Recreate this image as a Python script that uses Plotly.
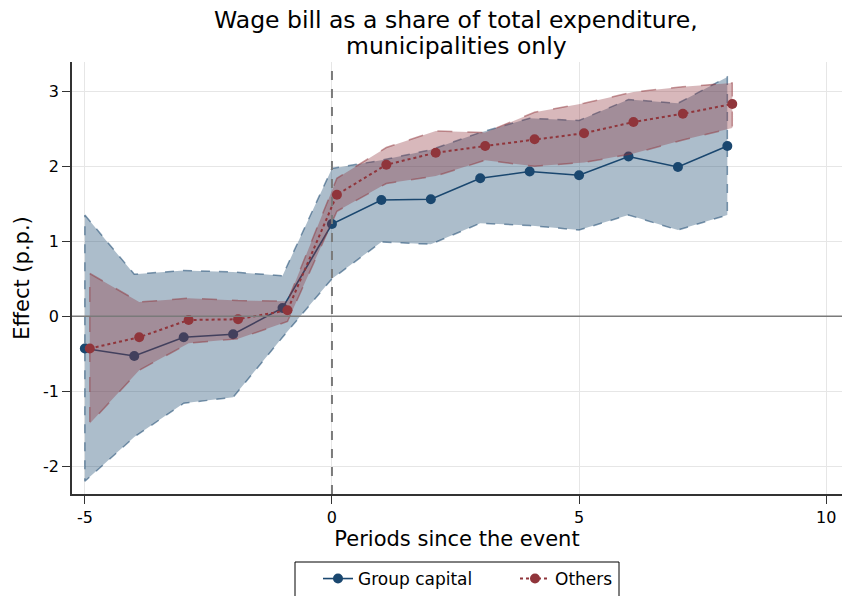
import plotly.graph_objects as go

periods = [-5, -4, -3, -2, -1, 0, 1, 2, 3, 4, 5, 6, 7, 8]

# Group capital
cap_est = [-0.43, -0.53, -0.28, -0.24, 0.11, 1.23, 1.55, 1.56, 1.84, 1.93, 1.88, 2.13, 1.99, 2.27]
cap_hi = [1.35, 0.56, 0.61, 0.59, 0.54, 1.97, 2.08, 2.22, 2.45, 2.64, 2.61, 2.89, 2.84, 3.19]
cap_lo = [-2.2, -1.61, -1.16, -1.08, -0.28, 0.5, 0.99, 0.96, 1.24, 1.21, 1.15, 1.35, 1.15, 1.35]

# Others (plotted with a small horizontal offset)
oth_shift = 0.1
oth_est = [-0.43, -0.28, -0.05, -0.04, 0.08, 1.62, 2.02, 2.18, 2.27, 2.36, 2.44, 2.59, 2.70, 2.83]
oth_hi = [0.57, 0.19, 0.24, 0.21, 0.2, 1.84, 2.25, 2.47, 2.45, 2.72, 2.84, 2.99, 3.06, 3.11]
oth_lo = [-1.43, -0.72, -0.36, -0.3, -0.07, 1.4, 1.77, 1.87, 2.08, 2.0, 2.05, 2.17, 2.35, 2.51]

x_ticks = [-5, 0, 5, 10]
y_ticks = [-2, -1, 0, 1, 2, 3]

BLUE = "#1a476f"
RED = "#90353b"

# plot area in pixels (for paper-coord placement of title/legend box)
L, R, T, B = 72, 0, 62, 102
W, H = 842, 596
PW, PH = W - L - R, H - T - B


def px_x(px):
    return (px - L) / PW


def px_y(py):
    return (H - B - py) / PH


def band(x, lo, hi, fill, edge, dash):
    xs = list(x) + list(x)[::-1] + [x[0]]
    ys = list(hi) + list(lo)[::-1] + [hi[0]]
    return go.Scatter(
        x=xs, y=ys, mode="lines", fill="toself", fillcolor=fill,
        line=dict(color=edge, width=1.5, dash=dash),
        hoverinfo="skip", showlegend=False,
    )


oth_x = [p + oth_shift for p in periods]

fig = go.Figure()
fig.add_trace(band(periods, cap_lo, cap_hi, "rgba(26,71,111,0.36)", "rgba(26,71,111,0.55)", "dash"))
fig.add_trace(go.Scatter(
    x=periods, y=cap_est, mode="lines+markers", name="Group capital",
    line=dict(color=BLUE, width=1.6), marker=dict(color=BLUE, size=10),
))
fig.add_trace(band(oth_x, oth_lo, oth_hi, "rgba(144,53,59,0.35)", "rgba(144,53,59,0.5)", "longdash"))
fig.add_trace(go.Scatter(
    x=oth_x, y=oth_est, mode="lines+markers", name="Others",
    line=dict(color=RED, width=2, dash="dot"), marker=dict(color=RED, size=10),
))

fig.add_hline(y=0, line=dict(color="#7a7a7a", width=1.5), layer="above")
fig.add_vline(x=0, line=dict(color="#7a7a7a", width=2, dash="dash"), layer="above")

# legend frame (taller than plotly's own box, runs off the bottom edge)
fig.add_shape(
    type="rect", xref="paper", yref="paper",
    x0=px_x(295), x1=px_x(619), y0=px_y(562), y1=px_y(605),
    line=dict(color="black", width=1), fillcolor="rgba(0,0,0,0)",
)

fig.add_annotation(
    text="Wage bill as a share of total expenditure,", xref="paper", yref="paper",
    x=px_x(456), y=px_y(20), xanchor="center", yanchor="middle",
    showarrow=False, font=dict(size=23.5),
)
fig.add_annotation(
    text="municipalities only", xref="paper", yref="paper",
    x=px_x(456), y=px_y(46), xanchor="center", yanchor="middle",
    showarrow=False, font=dict(size=23.5),
)

fig.update_layout(
    width=W, height=H,
    paper_bgcolor="white", plot_bgcolor="white",
    font=dict(family="DejaVu Sans", size=16, color="black"),
    margin=dict(l=L, r=R, t=T, b=B, autoexpand=False),
    legend=dict(
        orientation="h", x=px_x(318), xanchor="left", y=px_y(579), yanchor="middle",
        borderwidth=0, font=dict(size=17), entrywidth=152, bgcolor="rgba(0,0,0,0)",
    ),
    xaxis=dict(
        range=[-5.26, 10.32], tickvals=x_ticks, ticktext=[str(v) for v in x_ticks],
        showgrid=True, gridcolor="#e6e6e6", gridwidth=1, zeroline=False,
        showline=True, linecolor="#333333", linewidth=1.5,
        ticks="outside", ticklen=8, tickcolor="#333333",
        title=dict(text="Periods since the event", font=dict(size=21), standoff=3),
    ),
    yaxis=dict(
        range=[-2.37, 3.39], tickvals=y_ticks, ticktext=[str(v) for v in y_ticks],
        showgrid=True, gridcolor="#e6e6e6", gridwidth=1, zeroline=False,
        showline=True, linecolor="#333333", linewidth=1.5,
        ticks="outside", ticklen=8, tickcolor="#333333",
        title=dict(text="Effect (p.p.)", font=dict(size=21), standoff=8),
    ),
)

fig.write_html(
    "out.html",
    config={"displayModeBar": False},
    post_script="document.body.style.margin='0';",
)
